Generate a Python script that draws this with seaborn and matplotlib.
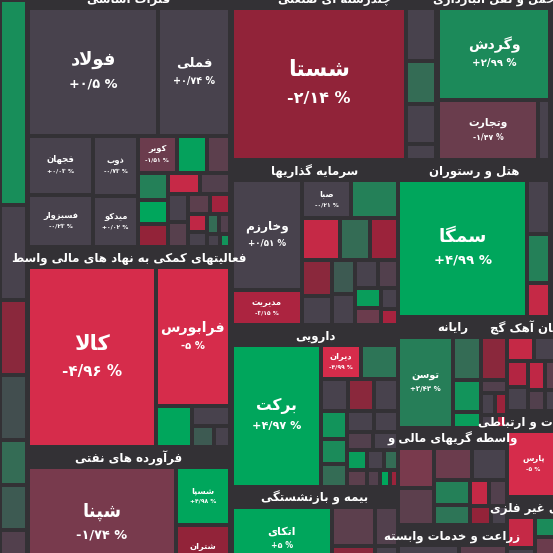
import matplotlib
matplotlib.use("Agg")
import matplotlib.pyplot as plt
from matplotlib.patches import Rectangle
import numpy as np
import seaborn as sns

# ---- data: (names, values, % change) per sector ----
LEFT_NAMES = ["", "", "", "", "", "پارس", "", ""]
LEFT_VALUES = [4100, 1900, 1500, 900, 700, 1300, 900, 700]
LEFT_CHANGES = [3.2, 0.0, -2.0, 1.2, -1.0, 1.0, 1.5, -2.5]

FELEZAT_NAMES = ["فولاد", "فملی", "فجهان", "فسبزوار", "ذوب", "میدکو", "کویر", ""] + [""] * 16
FELEZAT_VALUES = [14500, 8000, 3350, 3000, 2300, 2000, 1250, 950,
                  750, 700, 650, 600, 600, 550, 500, 450, 400, 350, 300, 250, 200, 180, 150, 120]
FELEZAT_CHANGES = [0.5, 0.74, 0.03, -0.23, -0.73, 0.02, -1.51, 4.2,
                   -1.2, 2.5, 4.5, -4.3, -2.2, -1.0, 0.0, -1.1, -1.2, -2.8, -4.0, 0.0, 1.5, -1.0, 0.0, 3.5]

KOMAKI_NAMES = ["کالا", "فرابورس", "", "", "", ""]
KOMAKI_VALUES = [20000, 9000, 1300, 650, 400, 300]
KOMAKI_CHANGES = [-4.96, -5.0, 4.5, 0.0, 1.2, 0.0]

NAFTI_NAMES = ["شپنا", "شسپا", "شتران"]
NAFTI_VALUES = [14500, 2700, 2600]
NAFTI_CHANGES = [-1.74, 4.98, -2.19]

CHAND_NAMES = ["شستا", "", "", "", ""]
CHAND_VALUES = [28000, 1700, 1400, 1300, 500]
CHAND_CHANGES = [-2.14, 0.0, 1.5, 0.0, 0.0]

HAML_NAMES = ["وگردش", "وتجارت", ""]
HAML_VALUES = [8900, 5200, 600]
HAML_CHANGES = [2.99, -1.47, 0.0]

SARMAYE_NAMES = ["وخارزم", "مدیریت", "صبا"] + [""] * 14
SARMAYE_VALUES = [6800, 2200, 1700, 1600, 1450, 1050, 1100, 950, 800, 700, 650, 550, 480, 450, 400, 320, 250]
SARMAYE_CHANGES = [0.51, -3.15, -0.21, 2.5, -4.2, -2.5, 1.5, -2.0, 0.0, 1.2, 0.0, 0.0, -1.0, 4.0, -1.5, 0.0, -3.0]

HOTEL_NAMES = ["سمگا", "", "", ""]
HOTEL_VALUES = [15900, 1100, 1000, 700]
HOTEL_CHANGES = [4.99, 0.0, 2.5, -4.2]

DAROO_NAMES = ["برکت", "دیران"] + [""] * 18
DAROO_VALUES = [11200, 1200, 1100, 800, 750, 700, 650, 600, 550, 500,
                450, 420, 400, 350, 300, 280, 250, 200, 150, 120]
DAROO_CHANGES = [4.97, -4.99, 2.0, 0.0, -2.0, 0.0, 3.5, 3.0, 1.5, 0.0,
                 0.0, -1.0, 0.0, 4.0, -1.2, 0.0, 1.5, -1.0, 4.5, -2.5]

BIME_NAMES = ["اتکای", "", "", "", ""]
BIME_VALUES = [5600, 1500, 900, 800, 500]
BIME_CHANGES = [5.0, -1.2, -2.0, -1.0, 0.0]

RAYANE_NAMES = ["توسن"] + [""] * 9
RAYANE_VALUES = [4900, 1200, 1100, 900, 450, 350, 300, 250, 200, 150]
RAYANE_CHANGES = [2.43, 1.5, -2.0, 3.5, 4.0, -1.0, 0.0, -2.5, 0.0, -4.0]

VASETE_NAMES = [""] * 10
VASETE_VALUES = [1400, 1300, 1200, 1100, 900, 700, 500, 450, 400, 300]
VASETE_CHANGES = [-1.8, -1.2, -1.5, 0.0, 2.5, 2.0, -4.2, -1.0, -2.2, 0.0]

ZERAAT_NAMES = ["", ""]
ZERAAT_VALUES = [900, 700]
ZERAAT_CHANGES = [0.0, -1.2]

SIMAN_NAMES = [""] * 8
SIMAN_VALUES = [500, 500, 450, 400, 400, 350, 300, 250]
SIMAN_CHANGES = [0.0, -4.2, -3.5, -4.0, 0.0, -1.2, -1.0, 0.0]

ERTEBAT_NAMES = ["پارس"]
ERTEBAT_VALUES = [2800]
ERTEBAT_CHANGES = [-5.0]

KANI_NAMES = [""] * 5
KANI_VALUES = [700, 500, 400, 350, 300]
KANI_CHANGES = [-4.2, 0.0, 3.0, -1.5, 4.5]

SECTOR_TITLES = {
    "left": "", "felezat": "فلزات اساسی", "komaki": "فعالیتهای کمکی به نهاد های مالی واسط",
    "nafti": "فرآورده های نفتی", "chand": "چندرشته ای صنعتی", "haml": "حمل و نقل انبارداری",
    "sarmaye": "سرمایه گذاریها", "hotel": "هتل و رستوران", "daroo": "دارویی",
    "bime": "بیمه و بازنشستگی", "rayane": "رایانه", "vasete": "واسطه گریهای مالی و",
    "zeraat": "زراعت و خدمات وابسته", "siman": "سیمان آهک گچ", "ertebat": "اطلاعات و ارتباطی",
    "kani": "کانی غیر فلزی",
}
SECTORS = {
    "left": (LEFT_NAMES, LEFT_VALUES, LEFT_CHANGES),
    "felezat": (FELEZAT_NAMES, FELEZAT_VALUES, FELEZAT_CHANGES),
    "komaki": (KOMAKI_NAMES, KOMAKI_VALUES, KOMAKI_CHANGES),
    "nafti": (NAFTI_NAMES, NAFTI_VALUES, NAFTI_CHANGES),
    "chand": (CHAND_NAMES, CHAND_VALUES, CHAND_CHANGES),
    "haml": (HAML_NAMES, HAML_VALUES, HAML_CHANGES),
    "sarmaye": (SARMAYE_NAMES, SARMAYE_VALUES, SARMAYE_CHANGES),
    "hotel": (HOTEL_NAMES, HOTEL_VALUES, HOTEL_CHANGES),
    "daroo": (DAROO_NAMES, DAROO_VALUES, DAROO_CHANGES),
    "bime": (BIME_NAMES, BIME_VALUES, BIME_CHANGES),
    "rayane": (RAYANE_NAMES, RAYANE_VALUES, RAYANE_CHANGES),
    "vasete": (VASETE_NAMES, VASETE_VALUES, VASETE_CHANGES),
    "zeraat": (ZERAAT_NAMES, ZERAAT_VALUES, ZERAAT_CHANGES),
    "siman": (SIMAN_NAMES, SIMAN_VALUES, SIMAN_CHANGES),
    "ertebat": (ERTEBAT_NAMES, ERTEBAT_VALUES, ERTEBAT_CHANGES),
    "kani": (KANI_NAMES, KANI_VALUES, KANI_CHANGES),
}

# zoomed view: column regions (x0, x1, y0, y1) and the sectors stacked in them
REGIONS = [
    ((0, 27, 0, 600), ["left"], 0),
    ((28, 230, -12, 580), ["felezat", "komaki", "nafti"], 20),
    ((232, 436, -12, 160), ["chand"], 20),
    ((438, 550, -12, 160), ["haml"], 20),
    ((232, 398, 160, 570), ["sarmaye", "daroo", "bime"], 20),
    ((398, 550, 160, 317), ["hotel"], 20),
    ((398, 507, 317, 560), ["rayane", "vasete", "zeraat"], 20),
    ((507, 560, 317, 570), ["siman", "ertebat", "kani"], 20),
]

BG = "#333135"
STOPS = ["#d62c4b", "#a8233f", "#8e2338", "#7a3a4d", "#48424d", "#48424d", "#356b55", "#1c8a5a", "#00a65c"]
cmap = sns.blend_palette(STOPS, as_cmap=True)
ANCHORS = [-5, -3, -2.05, -1.8, -0.8, 0.8, 1.5, 3, 4.5]


def tone(v):
    return np.interp(v, ANCHORS, np.linspace(0, 1, len(STOPS)))


# ---- minimal Persian shaping (presentation forms) ----
DUAL = {
    "ب": "ﺏﺐﺑﺒ", "پ": "ﭖﭗﭘﭙ", "ت": "ﺕﺖﺗﺘ", "ث": "ﺙﺚﺛﺜ", "ج": "ﺝﺞﺟﺠ", "چ": "ﭺﭻﭼﭽ",
    "ح": "ﺡﺢﺣﺤ", "خ": "ﺥﺦﺧﺨ", "س": "ﺱﺲﺳﺴ", "ش": "ﺵﺶﺷﺸ", "ص": "ﺹﺺﺻﺼ", "ض": "ﺽﺾﺿﻀ",
    "ط": "ﻁﻂﻃﻄ", "ظ": "ﻅﻆﻇﻈ", "ع": "ﻉﻊﻋﻌ", "غ": "ﻍﻎﻏﻐ", "ف": "ﻑﻒﻓﻔ", "ق": "ﻕﻖﻗﻘ",
    "ک": "ﮎﮏﮐﮑ", "گ": "ﮒﮓﮔﮕ", "ل": "ﻝﻞﻟﻠ", "م": "ﻡﻢﻣﻤ", "ن": "ﻥﻦﻧﻨ", "ه": "ﻩﻪﻫﻬ",
    "ی": "ﯼﯽﯾﯿ",
}
RIGHT = {"ا": "ﺍﺎ", "آ": "ﺁﺂ", "د": "ﺩﺪ", "ذ": "ﺫﺬ", "ر": "ﺭﺮ", "ز": "ﺯﺰ", "ژ": "ﮊﮋ", "و": "ﻭﻮ"}


def shape(text):
    out = []
    i = 0
    prev_joins = False
    while i < len(text):
        c = text[i]
        nxt = text[i + 1] if i + 1 < len(text) else ""
        if c == "ل" and nxt == "ا":
            out.append("ﻼ" if prev_joins else "ﻻ")
            prev_joins = False
            i += 2
            continue
        if c in DUAL:
            joins_next = nxt in DUAL or nxt in RIGHT
            idx = {(False, False): 0, (True, False): 1, (False, True): 2, (True, True): 3}[(prev_joins, joins_next)]
            out.append(DUAL[c][idx])
            prev_joins = True
        elif c in RIGHT:
            out.append(RIGHT[c][1 if prev_joins else 0])
            prev_joins = False
        else:
            out.append(c)
            prev_joins = False
        i += 1
    return "".join(out)[::-1]


def fa_pct(v):
    s = f"{abs(v):.2f}".rstrip("0").rstrip(".")
    s = s.translate(str.maketrans("0123456789.", "۰۱۲۳۴۵۶۷۸۹/"))
    sign = "-" if v < 0 else "+"
    return f"{sign}{s} %"


# ---- squarified treemap ----
def worst(row, short):
    s = sum(row)
    return max(max(short * short * r / (s * s), s * s / (short * short * r)) for r in row)


def squarify(values, x, y, w, h):
    total = sum(values)
    sizes = [v * w * h / total for v in values]
    rects = []
    while sizes:
        short = min(w, h)
        row = [sizes[0]]
        i = 1
        while i < len(sizes) and worst(row + [sizes[i]], short) <= worst(row, short):
            row.append(sizes[i])
            i += 1
        s = sum(row)
        if w >= h:
            cw = s / h
            yy = y
            for r in row:
                rects.append((x, yy, cw, r / cw))
                yy += r / cw
            x += cw
            w -= cw
        else:
            rh = s / w
            xx = x
            for r in row:
                rects.append((xx, y, r / rh, rh))
                xx += r / rh
            y += rh
            h -= rh
        sizes = sizes[i:]
    return rects


sns.set_style("dark")
plt.rcParams["font.family"] = ["DejaVu Sans"]
fig = plt.figure(figsize=(5.53, 5.53), dpi=100, facecolor=BG)
ax = fig.add_axes([0, 0, 1, 1])
ax.set_facecolor(BG)
ax.set_xlim(0, 553)
ax.set_ylim(553, 0)
ax.axis("off")

gap = 2.0
for (x0, x1, y0, y1), keys, head in REGIONS:
    totals = [sum(SECTORS[k][1]) for k in keys]
    avail = (y1 - y0) - head * len(keys)
    y = y0
    for k, tot in zip(keys, totals):
        names, values, changes = SECTORS[k]
        sh = avail * tot / sum(totals)
        if head:
            ax.text((x0 + x1) / 2, y + head / 2 + 1, shape(SECTOR_TITLES[k]), color="white",
                    fontsize=8.5, fontweight="bold", ha="center", va="center", clip_on=True)
        order = np.argsort(values)[::-1]
        rects = squarify([values[j] for j in order], x0, y + head, x1 - x0, sh)
        for j, (rx, ry, rw, rh) in zip(order, rects):
            ax.add_patch(Rectangle((rx + gap, ry + gap), rw - 2 * gap, rh - 2 * gap,
                                   facecolor=cmap(tone(changes[j])), edgecolor="none"))
            if names[j] and rw > 30 and rh > 26:
                fs = max(6.0, min(16.0, np.sqrt(rw * rh) / 10))
                cx, cy = rx + rw / 2, ry + rh / 2
                ax.text(cx, cy - fs * 0.9, shape(names[j]), color="white", fontsize=fs,
                        fontweight="bold", ha="center", va="center", clip_on=True)
                ax.text(cx, cy + fs * 0.9, fa_pct(changes[j]), color="white", fontsize=fs * 0.72,
                        fontweight="bold", ha="center", va="center", clip_on=True)
        y += sh + head

fig.savefig("out.png", dpi=100, facecolor=BG)
